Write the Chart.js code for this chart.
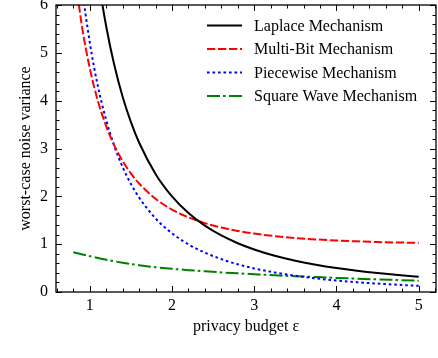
<!DOCTYPE html>
<html>
<head>
<meta charset="utf-8">
<script src="https://cdn.jsdelivr.net/npm/chart.js@4/dist/chart.umd.min.js"></script>
<style>
  body { margin: 0; background: #fff; }
</style>
</head>
<body>
<canvas id="myChart" width="438" height="358"></canvas>
<script>
// privacy budget values (x)
var epsilons = [0.8, 0.9, 1.0, 1.1, 1.2, 1.3, 1.4, 1.5, 1.6, 1.8, 2.0, 2.2, 2.4, 2.6, 2.8, 3.0, 3.25, 3.5, 3.75, 4.0, 4.25, 4.5, 4.75, 5.0];

// worst-case noise variance
var laplace = [12.5, 9.877, 8.0, 6.612, 5.556, 4.734, 4.082, 3.556, 3.125, 2.469, 2.0, 1.653, 1.389, 1.183, 1.02, 0.889, 0.757, 0.653, 0.569, 0.5, 0.443, 0.395, 0.355, 0.32];
var multiBit = [6.93, 5.618, 4.683, 3.992, 3.467, 3.06, 2.738, 2.479, 2.268, 1.949, 1.724, 1.561, 1.439, 1.347, 1.276, 1.221, 1.168, 1.128, 1.099, 1.076, 1.059, 1.045, 1.035, 1.027];
var piecewise = [8.22, 6.474, 5.224, 4.298, 3.595, 3.047, 2.612, 2.262, 1.976, 1.539, 1.228, 0.997, 0.822, 0.687, 0.579, 0.493, 0.407, 0.339, 0.285, 0.241, 0.205, 0.176, 0.151, 0.13];
var squareWave = [0.83, 0.79, 0.75, 0.71, 0.675, 0.642, 0.612, 0.585, 0.56, 0.519, 0.485, 0.457, 0.432, 0.41, 0.39, 0.372, 0.35, 0.33, 0.312, 0.295, 0.279, 0.264, 0.25, 0.236];

var xTickLabels = [1, 2, 3, 4, 5];
var yTickLabels = [0, 1, 2, 3, 4, 5, 6];

var FONT = "'Liberation Serif', 'DejaVu Serif', serif";

function toPoints(values) {
  return epsilons.map(function (e, i) {
    return { x: e, y: values[i] };
  });
}

function lineSet(label, values, color, dash) {
  return {
    label: label,
    data: toPoints(values),
    borderColor: color,
    backgroundColor: color,
    borderWidth: 2,
    borderDash: dash,
    pointRadius: 0,
    cubicInterpolationMode: "monotone",
    fill: false,
  };
}

// box, inward ticks on all four sides
var frameTicks = {
  id: "frameTicks",
  afterDraw: function (chart) {
    var ctx = chart.ctx;
    var a = chart.chartArea;
    var x = chart.scales.x;
    var y = chart.scales.y;
    ctx.save();
    ctx.strokeStyle = "#000";
    ctx.lineWidth = 1;
    ctx.beginPath();
    for (var i = 3; i <= 26; i++) {
      var v = i / 5;
      var px = Math.round(x.getPixelForValue(v)) + 0.5;
      var len = i % 5 === 0 ? 6 : 3.5;
      ctx.moveTo(px, a.bottom); ctx.lineTo(px, a.bottom - len);
      ctx.moveTo(px, a.top); ctx.lineTo(px, a.top + len);
    }
    for (var j = 0; j <= 30; j++) {
      var w = j / 5;
      var py = Math.round(y.getPixelForValue(w)) + 0.5;
      var ylen = j % 5 === 0 ? 6 : 3.5;
      ctx.moveTo(a.left, py); ctx.lineTo(a.left + ylen, py);
      ctx.moveTo(a.right, py); ctx.lineTo(a.right - ylen, py);
    }
    ctx.stroke();
    ctx.lineWidth = 1.3;
    ctx.strokeRect(a.left, a.top, a.right - a.left, a.bottom - a.top);
    ctx.restore();
  },
};

// legend inside the plot, upper right
var insideLegend = {
  id: "insideLegend",
  afterDraw: function (chart) {
    var ctx = chart.ctx;
    var a = chart.chartArea;
    var x0 = a.right - 229;
    var x1 = a.right - 194;
    var tx = a.right - 182;
    ctx.save();
    ctx.font = "16px " + FONT;
    ctx.textBaseline = "middle";
    ctx.fillStyle = "#000";
    chart.data.datasets.forEach(function (ds, i) {
      var ry = a.top + 20.5 + i * 23.5;
      ctx.strokeStyle = ds.borderColor;
      ctx.lineWidth = ds.borderWidth;
      ctx.setLineDash(ds.borderDash || []);
      ctx.beginPath();
      ctx.moveTo(x0, ry);
      ctx.lineTo(x1, ry);
      ctx.stroke();
      ctx.setLineDash([]);
      ctx.fillText(ds.label, tx, ry + 1);
    });
    ctx.restore();
  },
};

var ctx = document.getElementById("myChart").getContext("2d");
var chart = new Chart(ctx, {
  type: "line",
  data: {
    datasets: [
      lineSet("Laplace Mechanism", laplace, "#000000", []),
      lineSet("Multi-Bit Mechanism", multiBit, "#ff0000", [8.3, 2.7]),
      lineSet("Piecewise Mechanism", piecewise, "#0000ff", [2.6, 2.9]),
      lineSet("Square Wave Mechanism", squareWave, "#008000", [13, 3, 2.6, 3.4]),
    ],
  },
  options: {
    responsive: false,
    animation: false,
    layout: { padding: { left: 0, right: 2, top: 5, bottom: 0 } },
    plugins: {
      legend: { display: false },
      tooltip: { enabled: false },
    },
    scales: {
      x: {
        type: "linear",
        min: 0.59,
        max: 5.21,
        afterFit: function (s) {
          s.height = 66;
          s.paddingLeft = 0;
          s.paddingRight = 0;
        },
        afterBuildTicks: function (s) {
          s.ticks = xTickLabels.map(function (v) { return { value: v }; });
        },
        ticks: {
          color: "#000",
          font: { family: FONT, size: 16 },
          padding: 4,
          maxRotation: 0,
        },
        grid: { display: false, drawTicks: false },
        border: { display: false },
        title: {
          display: true,
          text: "privacy budget ε",
          color: "#000",
          font: { family: FONT, size: 16 },
          padding: { top: 0, bottom: 22 },
        },
      },
      y: {
        min: 0,
        max: 6,
        afterFit: function (s) {
          s.width = 56;
          s.paddingTop = 0;
          s.paddingBottom = 0;
        },
        afterBuildTicks: function (s) {
          s.ticks = yTickLabels.map(function (v) { return { value: v }; });
        },
        ticks: {
          color: "#000",
          font: { family: FONT, size: 16 },
          padding: 8,
        },
        grid: { display: false, drawTicks: false },
        border: { display: false },
        title: {
          display: true,
          text: "worst-case noise variance",
          color: "#000",
          font: { family: FONT, size: 16 },
          padding: { top: 16, bottom: 0 },
        },
      },
    },
  },
  plugins: [frameTicks, insideLegend],
});
</script>
</body>
</html>
